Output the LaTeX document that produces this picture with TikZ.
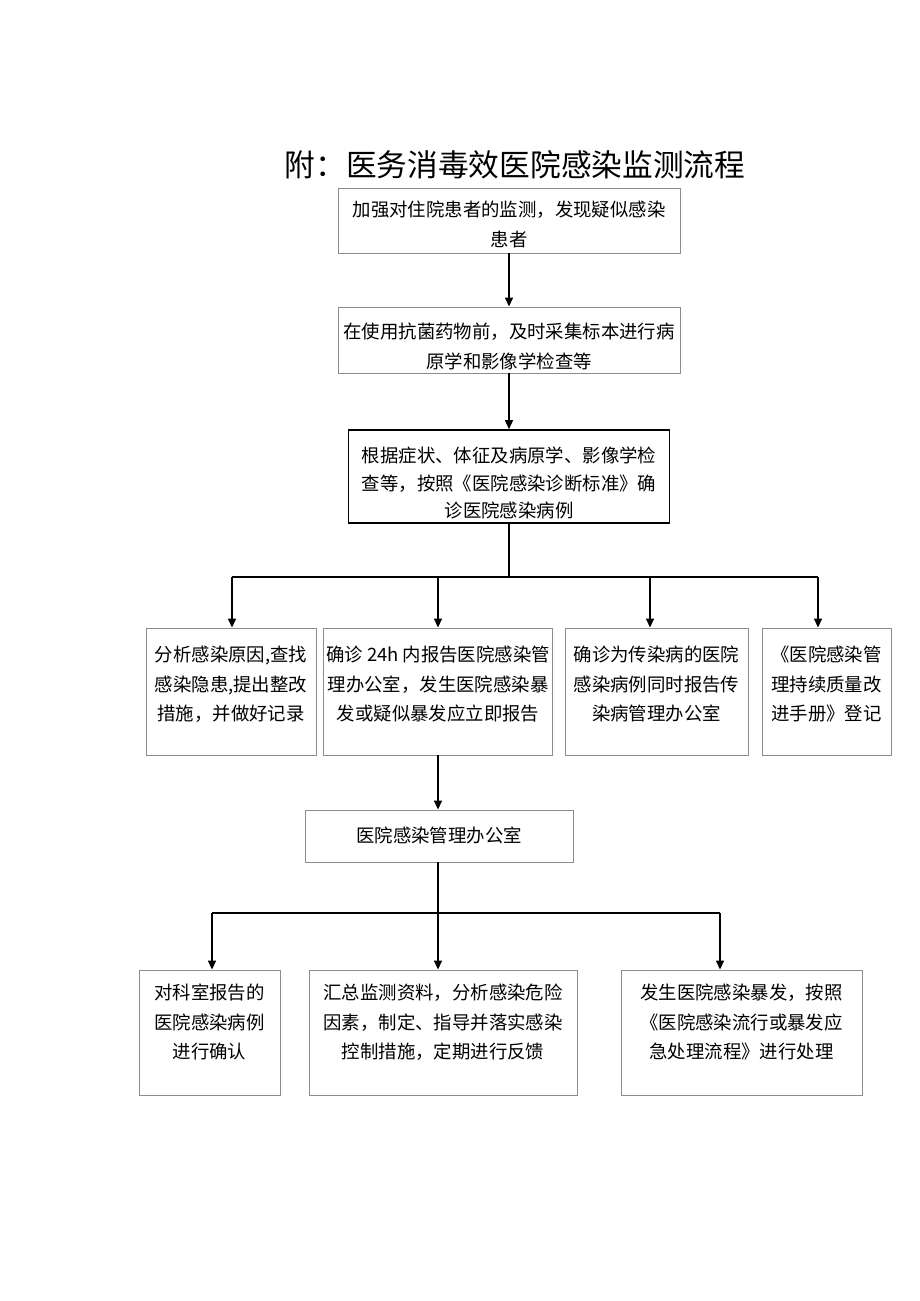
\documentclass[tikz,border=0pt]{standalone}
\usepackage{fontspec}
\setmainfont{Noto Sans CJK SC}
\usetikzlibrary{arrows.meta}
\newcommand{\boxfont}{\fontsize{18.4}{29.5}\selectfont}
% box body: width, height, top gap, text
\newcommand{\boxtext}[4]{\parbox[c][#2][t]{#1}{\centering\vspace*{#3}#4}}
\tikzset{
    cell/.style={draw=black!45, line width=0.9pt, inner sep=0pt, font=\boxfont},
    keycell/.style={cell, draw=black, line width=1.6pt},
    arr/.style={-{Triangle[length=9pt,width=8pt]}, line width=1.4pt},
    bus/.style={line width=1.4pt}
}
\begin{document}
\begin{tikzpicture}[x=1pt,y=-1pt]
    \useasboundingbox (0,0) rectangle (920,1301);
    \node (title) at (515,165) {\fontsize{30.7}{36}\selectfont 附：医务消毒效医院感染监测流程};
    \node[cell] (watch) at (509,220.5) {\boxtext{342pt}{65pt}{13pt}{加强对住院患者的监测，发现疑似感染\\患者}};
    \node[cell] (sample) at (509,340) {\boxtext{342pt}{66pt}{16pt}{在使用抗菌药物前，及时采集标本进行病\\原学和影像学检查等}};
    \node[keycell] (diag) at (509,476.5) {\boxtext{321pt}{93pt}{17pt}{\fontsize{18.4}{27.5}\selectfont 根据症状、体征及病原学、影像学检\\查等，按照《医院感染诊断标准》确\\诊医院感染病例}};
    % second row
    \node[cell] (cause) at (231,691.5) {\boxtext{170pt}{127pt}{18pt}{分析感染原因,查找\\感染隐患,提出整改\\措施，并做好记录}};
    \node[cell] (report) at (438,691.5) {\boxtext{229pt}{127pt}{18pt}{确诊 24h 内报告医院感染管\\理办公室，发生医院感染暴\\发或疑似暴发应立即报告}};
    \node[cell] (notify) at (656.5,691.5) {\boxtext{183pt}{127pt}{18pt}{确诊为传染病的医院\\感染病例同时报告传\\染病管理办公室}};
    \node[cell] (record) at (826.5,691.5) {\boxtext{129pt}{127pt}{18pt}{《医院感染管\\理持续质量改\\进手册》登记}};
    \node[cell] (office) at (439,836) {\boxtext{268pt}{52pt}{17pt}{医院感染管理办公室}};
    % third row
    \node[cell] (confirm) at (209.5,1032.5) {\boxtext{141pt}{125pt}{14pt}{对科室报告的\\医院感染病例\\进行确认}};
    \node[cell] (analyse) at (443,1032.5) {\boxtext{268pt}{125pt}{14pt}{汇总监测资料，分析感染危险\\因素，制定、指导并落实感染\\控制措施，定期进行反馈}};
    \node[cell] (outbreak) at (741.5,1032.5) {\boxtext{241pt}{125pt}{14pt}{发生医院感染暴发，按照\\《医院感染流行或暴发应\\急处理流程》进行处理}};
    % connectors
    \draw[arr] (watch) -- (sample);
    \draw[arr] (sample.south) -- (sample.south |- diag.north);
    \coordinate (f4a) at (232,577);
    \coordinate (f4b) at (438,577);
    \coordinate (f4c) at (650,577);
    \coordinate (f4d) at (818,577);
    \draw[bus] (diag.south) -- (diag.south |- f4a);
    \draw[bus] (f4a) -- (f4d);
    \foreach \f/\n in {f4a/cause, f4b/report, f4c/notify, f4d/record}
        \draw[arr] (\f) -- (\f |- \n.north);
    \draw[arr] (report.south) -- (report.south |- office.north);
    \coordinate (f6a) at (212,913);
    \coordinate (f6b) at (438,913);
    \coordinate (f6c) at (720,913);
    \draw[bus] (f6b |- office.south) -- (f6b);
    \draw[bus] (f6a) -- (f6c);
    \foreach \f/\n in {f6a/confirm, f6b/analyse, f6c/outbreak}
        \draw[arr] (\f) -- (\f |- \n.north);
\end{tikzpicture}
\end{document}
